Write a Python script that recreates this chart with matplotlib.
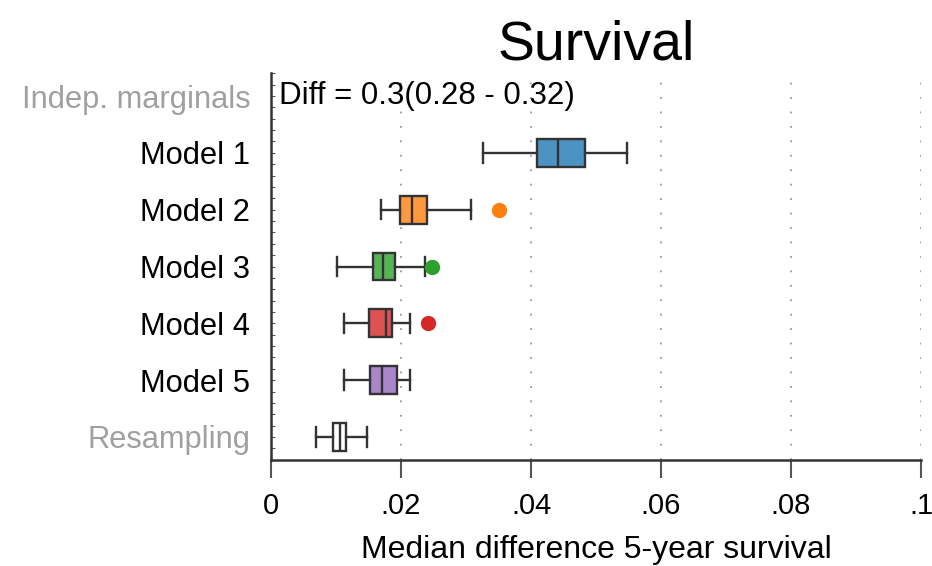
import matplotlib
matplotlib.use("Agg")
from matplotlib import pyplot as plt
from matplotlib.ticker import MultipleLocator

plt.rcParams['font.family'] = ['Liberation Sans', 'DejaVu Sans']

# categories, top to bottom
labels = ['Indep. marginals', 'Model 1', 'Model 2', 'Model 3', 'Model 4', 'Model 5', 'Resampling']
label_colors = ['#A0A0A0', 'black', 'black', 'black', 'black', 'black', '#A0A0A0']

# box statistics (rows 1..6)
box_rows = [1, 2, 3, 4, 5, 6]
whislo = [0.0326, 0.0169, 0.0101, 0.0113, 0.0112, 0.0069]
q1 = [0.0409, 0.0198, 0.0157, 0.0150, 0.0152, 0.0095]
med = [0.0442, 0.0217, 0.0173, 0.0177, 0.0170, 0.0106]
q3 = [0.0483, 0.0240, 0.0190, 0.0186, 0.0194, 0.0116]
whishi = [0.0548, 0.0308, 0.0237, 0.0214, 0.0214, 0.0147]
fliers = [[], [0.0351], [0.0247], [0.0241], [], []]
box_colors = ['tab:blue', 'tab:orange', 'tab:green', 'tab:red', 'tab:purple', 'white']

diff_text = 'Diff = 0.3(0.28 - 0.32)'

xticks = [0, 0.02, 0.04, 0.06, 0.08, 0.1]
xtick_labels = ['0', '.02', '.04', '.06', '.08', '.1']

fig = plt.figure(figsize=(9.32, 5.66), dpi=100)
ax = fig.add_axes([0.2908, 0.1873, 0.6974, 0.6837])

edge = '#333333'
stats = []
for i in range(len(box_rows)):
    stats.append(dict(whislo=whislo[i], q1=q1[i], med=med[i], q3=q3[i],
                      whishi=whishi[i], fliers=fliers[i]))

lw = 1.7
bp = ax.bxp(stats, positions=box_rows, widths=0.49, vert=False, patch_artist=True,
            showfliers=True, capwidths=0.34,
            boxprops=dict(edgecolor=edge, linewidth=lw),
            medianprops=dict(color=edge, linewidth=lw),
            whiskerprops=dict(color=edge, linewidth=lw),
            capprops=dict(color=edge, linewidth=lw))

for i, patch in enumerate(bp['boxes']):
    if box_colors[i] != 'white':
        patch.set_facecolor(matplotlib.colors.to_rgba(box_colors[i], 0.8))
    else:
        patch.set_facecolor('white')
    fl = bp['fliers'][i]
    fl.set_marker('o')
    fl.set_markerfacecolor(box_colors[i])
    fl.set_markeredgecolor(box_colors[i])
    fl.set_markersize(10)

ax.text(0.0012, 0, diff_text, fontsize=22.5, va='center', ha='left')

ax.set_xlim(0, 0.1)
ax.set_ylim(6.405, -0.405)
ax.set_yticks(range(len(labels)))
ax.set_yticklabels(labels, fontsize=22.2)
for t, c in zip(ax.get_yticklabels(), label_colors):
    t.set_color(c)
ax.yaxis.set_minor_locator(MultipleLocator(0.2))
ax.tick_params(axis='y', which='both', direction='in', length=3, width=0.8,
               color='#555555', pad=15)

ax.set_xticks(xticks)
ax.set_xticklabels(xtick_labels, fontsize=21)
ax.tick_params(axis='x', length=13, width=1.5, color='#555555', pad=10)

ax.grid(axis='x', color='#999999', linestyle=(0, (1, 7)), linewidth=1.3)
ax.set_axisbelow(True)

for s in ['top', 'right']:
    ax.spines[s].set_visible(False)
for s in ['left', 'bottom']:
    ax.spines[s].set_linewidth(1.8)
    ax.spines[s].set_color('#333333')

ax.set_xlabel('Median difference 5-year survival', fontsize=23, labelpad=11)
ax.set_title('Survival', fontsize=40, pad=10)

fig.savefig('out.png', dpi=100)
